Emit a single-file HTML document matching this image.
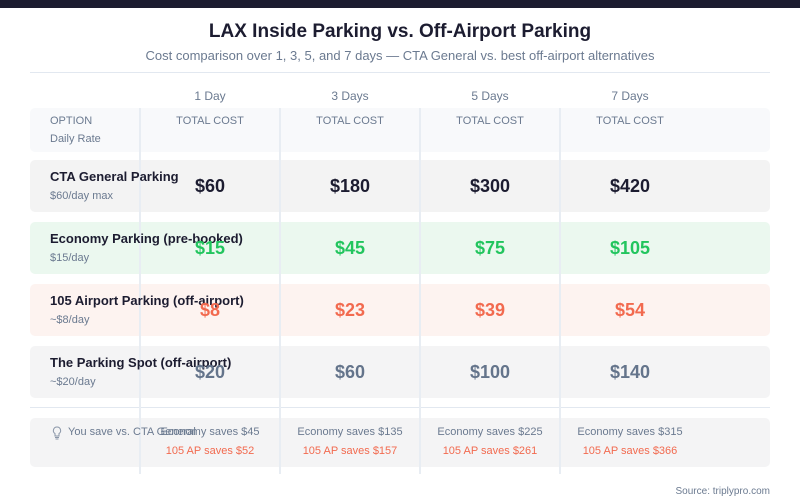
<!DOCTYPE html>
<html><head><meta charset="utf-8"><style>
body{margin:0;width:800px;height:500px;background:#fff;font-family:"Liberation Sans",sans-serif;position:relative;overflow:hidden}
.a{position:absolute}
.bar{left:0;top:0;width:800px;height:8px;background:#1c1c30}
.row{position:absolute;left:30px;width:740px;border-radius:5px}
.vl{position:absolute;top:108px;width:2px;height:366px;background:#e8edf3}
.c{position:absolute;width:140px;text-align:center}
.name{left:50px;font-size:13px;font-weight:bold;color:#1c1c30}
.sub{left:50px;font-size:11px;color:#6b7a90}
.val{font-size:18px;font-weight:bold}
</style></head><body>
<div class="a bar"></div>
<div class="a" style="left:0;width:800px;top:21px;text-align:center;font-size:19px;font-weight:bold;color:#1c1c30">LAX Inside Parking vs. Off-Airport Parking</div>
<div class="a" style="left:0;width:800px;top:48px;text-align:center;font-size:13px;color:#6b7a90">Cost comparison over 1, 3, 5, and 7 days — CTA General vs. best off-airport alternatives</div>
<div class="a" style="left:30px;width:740px;top:72px;height:1px;background:#e2e8f0"></div>

<div class="row" style="top:108px;height:44px;background:#f8f9fb"></div>
<div class="row" style="top:160px;height:52px;background:#f3f3f3"></div>
<div class="row" style="top:222px;height:52px;background:#ebf8ef"></div>
<div class="row" style="top:284px;height:52px;background:#fdf3f0"></div>
<div class="row" style="top:346px;height:52px;background:#f4f4f5"></div>
<div class="a" style="left:30px;width:740px;top:407px;height:1px;background:#e2e8f0"></div>
<div class="row" style="top:418px;height:49px;background:#f4f4f5"></div>

<div class="vl" style="left:139px"></div>
<div class="vl" style="left:279px"></div>
<div class="vl" style="left:419px"></div>
<div class="vl" style="left:559px"></div>

<div class="c" style="left:140px;top:89px;font-size:12px;color:#6b7a90">1 Day</div>
<div class="c" style="left:280px;top:89px;font-size:12px;color:#6b7a90">3 Days</div>
<div class="c" style="left:420px;top:89px;font-size:12px;color:#6b7a90">5 Days</div>
<div class="c" style="left:560px;top:89px;font-size:12px;color:#6b7a90">7 Days</div>

<div class="a" style="left:50px;top:115px;font-size:11px;color:#6b7a90">OPTION</div>
<div class="a" style="left:50px;top:133px;font-size:11px;color:#6b7a90">Daily Rate</div>
<div class="c" style="left:140px;top:115px;font-size:11px;color:#6b7a90">TOTAL COST</div>
<div class="c" style="left:280px;top:115px;font-size:11px;color:#6b7a90">TOTAL COST</div>
<div class="c" style="left:420px;top:115px;font-size:11px;color:#6b7a90">TOTAL COST</div>
<div class="c" style="left:560px;top:115px;font-size:11px;color:#6b7a90">TOTAL COST</div>

<div class="a name" style="top:169px">CTA General Parking</div>
<div class="a sub" style="top:190px">$60/day max</div>
<div class="a name" style="top:231px">Economy Parking (pre-booked)</div>
<div class="a sub" style="top:252px">$15/day</div>
<div class="a name" style="top:293px">105 Airport Parking (off-airport)</div>
<div class="a sub" style="top:314px">~$8/day</div>
<div class="a name" style="top:355px">The Parking Spot (off-airport)</div>
<div class="a sub" style="top:376px">~$20/day</div>

<div class="c val" style="left:140px;top:176px;color:#1c1c30">$60</div>
<div class="c val" style="left:280px;top:176px;color:#1c1c30">$180</div>
<div class="c val" style="left:420px;top:176px;color:#1c1c30">$300</div>
<div class="c val" style="left:560px;top:176px;color:#1c1c30">$420</div>
<div class="c val" style="left:140px;top:238px;color:#22c55e">$15</div>
<div class="c val" style="left:280px;top:238px;color:#22c55e">$45</div>
<div class="c val" style="left:420px;top:238px;color:#22c55e">$75</div>
<div class="c val" style="left:560px;top:238px;color:#22c55e">$105</div>
<div class="c val" style="left:140px;top:300px;color:#f26a4f">$8</div>
<div class="c val" style="left:280px;top:300px;color:#f26a4f">$23</div>
<div class="c val" style="left:420px;top:300px;color:#f26a4f">$39</div>
<div class="c val" style="left:560px;top:300px;color:#f26a4f">$54</div>
<div class="c val" style="left:140px;top:362px;color:#64748b">$20</div>
<div class="c val" style="left:280px;top:362px;color:#64748b">$60</div>
<div class="c val" style="left:420px;top:362px;color:#64748b">$100</div>
<div class="c val" style="left:560px;top:362px;color:#64748b">$140</div>

<svg class="a" style="left:52px;top:426px" width="10" height="14" viewBox="0 0 10 14"><path d="M5 1a3.6 3.6 0 0 0-2 6.6V10h4V7.6A3.6 3.6 0 0 0 5 1z" fill="none" stroke="#8a96a8" stroke-width="1"/><path d="M3 11.5h4M3.5 13h3" stroke="#8a96a8" stroke-width="1"/></svg>
<div class="a" style="left:68px;top:426px;font-size:11px;color:#6b7a90">You save vs. CTA General</div>
<div class="c" style="left:140px;top:426px;font-size:11px;color:#6b7a90">Economy saves $45</div>
<div class="c" style="left:280px;top:426px;font-size:11px;color:#6b7a90">Economy saves $135</div>
<div class="c" style="left:420px;top:426px;font-size:11px;color:#6b7a90">Economy saves $225</div>
<div class="c" style="left:560px;top:426px;font-size:11px;color:#6b7a90">Economy saves $315</div>
<div class="c" style="left:140px;top:445px;font-size:11px;color:#f26a4f">105 AP saves $52</div>
<div class="c" style="left:280px;top:445px;font-size:11px;color:#f26a4f">105 AP saves $157</div>
<div class="c" style="left:420px;top:445px;font-size:11px;color:#f26a4f">105 AP saves $261</div>
<div class="c" style="left:560px;top:445px;font-size:11px;color:#f26a4f">105 AP saves $366</div>

<div class="a" style="right:30px;top:486px;font-size:10px;color:#6b7a90">Source: triplypro.com</div>
</body></html>
